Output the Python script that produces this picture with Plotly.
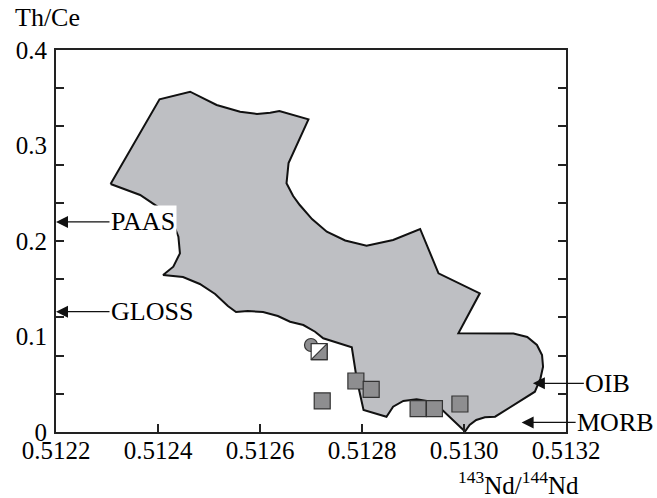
import plotly.graph_objects as go

# Outline of the shaded field (143Nd/144Nd, Th/Ce)
field_nd = [0.512307, 0.512403, 0.512463, 0.512515, 0.512561, 0.512594, 0.512620, 0.512638,
            0.512695, 0.512665, 0.512656, 0.512652, 0.512665, 0.512678, 0.512702, 0.512731,
            0.512767, 0.512809, 0.512861, 0.512914, 0.512950, 0.513031, 0.512989, 0.513097,
            0.513124, 0.513143, 0.513153, 0.513155, 0.513150, 0.513139, 0.513061, 0.513041,
            0.513024, 0.513011, 0.513002, 0.512956, 0.512933, 0.512907, 0.512881, 0.512861,
            0.512848, 0.512803, 0.512790, 0.512780, 0.512724, 0.512708, 0.512685, 0.512659,
            0.512635, 0.512606, 0.512576, 0.512553, 0.512537, 0.512512, 0.512482, 0.512449,
            0.512410, 0.512430, 0.512443, 0.512440, 0.512427, 0.512404, 0.512365, 0.512307]
field_thce = [0.2597, 0.3484, 0.3563, 0.3424, 0.3354, 0.3330, 0.3343, 0.3361,
              0.3274, 0.2935, 0.2817, 0.2604, 0.2471, 0.2377, 0.2230, 0.2097,
              0.2005, 0.1951, 0.2010, 0.2126, 0.1662, 0.1452, 0.1033, 0.1031,
              0.0995, 0.0911, 0.0806, 0.0684, 0.0562, 0.0422, 0.0160, 0.0154,
              0.0126, 0.0073, 0.0005, 0.0238, 0.0319, 0.0342, 0.0325, 0.0265,
              0.0160, 0.0230, 0.0545, 0.0887, 0.0981, 0.1050, 0.1120, 0.1155,
              0.1215, 0.1257, 0.1267, 0.1257, 0.1319, 0.1445, 0.1550, 0.1623,
              0.1644, 0.1731, 0.1871, 0.2045, 0.2220, 0.2342, 0.2482, 0.2597]

# Samples
sq_nd = [0.512788, 0.512818, 0.512722, 0.512910, 0.512942, 0.512992]
sq_thce = [0.0534, 0.0447, 0.0325, 0.0244, 0.0244, 0.0293]
half_nd = [0.512716]
half_thce = [0.0841]
circ_nd = [0.512700]
circ_thce = [0.0911]

# Reference reservoirs (arrow targets)
ref_names = ["PAAS", "GLOSS", "OIB", "MORB"]
ref_nd = [0.5122, 0.5122, 0.513135, 0.513113]
ref_thce = [0.220, 0.126, 0.051, 0.010]

x_range = [0.5122, 0.5132]
y_range = [0.0, 0.4]
x_ticks = [0.5122, 0.5124, 0.5126, 0.5128, 0.5130, 0.5132]
x_ticktext = ["0.5122", "0.5124", "0.5126", "0.5128", "0.5130", "0.5132"]
y_minor = [0.04 * i for i in range(11)]
y_labels = [0.0, 0.1, 0.2, 0.3, 0.4]
y_labeltext = ["0", "0.1", "0.2", "0.3", "0.4"]

FONT = "Liberation Serif, Times New Roman, serif"
W, H = 657, 498
ML, MR, MT, MB = 56, 91, 50, 66
plot_w = W - ML - MR
plot_h = H - MT - MB

fig = go.Figure()

fig.add_trace(go.Scatter(
    x=field_nd, y=field_thce, mode="lines", fill="toself",
    fillcolor="#bebfc3", line=dict(color="#111111", width=2),
    hoverinfo="skip", showlegend=False))

MK = 16  # square marker size in px
fig.add_trace(go.Scatter(
    x=sq_nd, y=sq_thce, mode="markers",
    marker=dict(symbol="square", size=MK, color="#8e8e90",
                line=dict(color="#333333", width=1.2)),
    showlegend=False))

fig.add_trace(go.Scatter(
    x=circ_nd, y=circ_thce, mode="markers",
    marker=dict(symbol="circle", size=13, color="#8e8e90",
                line=dict(color="#333333", width=1.2)),
    showlegend=False))

# half-filled square: white square with the lower-right half shaded
fig.add_trace(go.Scatter(
    x=half_nd, y=half_thce, mode="markers",
    marker=dict(symbol="square", size=MK, color="white",
                line=dict(color="#333333", width=1.2)),
    showlegend=False))
dx = (MK / 6.0) / plot_w * (x_range[1] - x_range[0])
dy = (MK / 6.0) / plot_h * (y_range[1] - y_range[0])
fig.add_trace(go.Scatter(
    x=[v + dx for v in half_nd], y=[v - dy for v in half_thce], mode="markers",
    marker=dict(symbol="triangle-se", size=MK / 0.9, color="#8e8e90",
                line=dict(color="#333333", width=1.2)),
    showlegend=False))

# carrier trace for the label-only y axis
fig.add_trace(go.Scatter(x=[None], y=[None], yaxis="y2", showlegend=False))

text_offsets = {"PAAS": 87, "GLOSS": 96, "OIB": 75, "MORB": 94}
for name, xv, yv in zip(ref_names, ref_nd, ref_thce):
    fig.add_annotation(
        x=xv, y=yv, xref="x", yref="y", text=name,
        showarrow=True, ax=text_offsets[name], ay=0,
        arrowhead=2, arrowsize=2.0, arrowwidth=1.2, arrowcolor="#111111",
        standoff=0, borderpad=1,
        bgcolor="white" if name == "PAAS" else "rgba(0,0,0,0)",
        font=dict(family=FONT, size=26, color="black"))

fig.add_annotation(
    x=(47.5 - ML) / plot_w, y=(H - MB - 17) / plot_h, xref="paper", yref="paper",
    text="Th/Ce", showarrow=False, xanchor="center", yanchor="middle",
    font=dict(family=FONT, size=26, color="black"))
fig.add_annotation(
    x=(518 - ML) / plot_w, y=(H - MB - 483) / plot_h, xref="paper", yref="paper",
    text="<sup>143</sup>Nd/<sup>144</sup>Nd", showarrow=False,
    xanchor="center", yanchor="middle",
    font=dict(family=FONT, size=25, color="black"))

fig.update_layout(
    width=W, height=H,
    margin=dict(l=ML, r=MR, t=MT, b=MB),
    paper_bgcolor="white", plot_bgcolor="white",
    font=dict(family=FONT, size=25, color="black"),
    xaxis=dict(range=x_range, tickvals=x_ticks, ticktext=x_ticktext,
               ticks="inside", ticklen=8, tickwidth=1.5, tickcolor="#222222",
               showline=True, linewidth=1.5, linecolor="#222222", mirror=True,
               showgrid=False, zeroline=False, ticklabelstandoff=-5,
               tickfont=dict(family=FONT, size=25, color="black")),
    yaxis=dict(range=y_range, tickvals=y_minor, showticklabels=False,
               ticks="inside", ticklen=8, tickwidth=1.5, tickcolor="#222222",
               showline=True, linewidth=1.5, linecolor="#222222", mirror="ticks",
               showgrid=False, zeroline=False),
    yaxis2=dict(range=y_range, overlaying="y", side="left",
                tickvals=y_labels, ticktext=y_labeltext, ticks="",
                showline=False, showgrid=False, zeroline=False,
                ticklabelstandoff=8,
                tickfont=dict(family=FONT, size=25, color="black")),
)

fig.write_html("out.html")
